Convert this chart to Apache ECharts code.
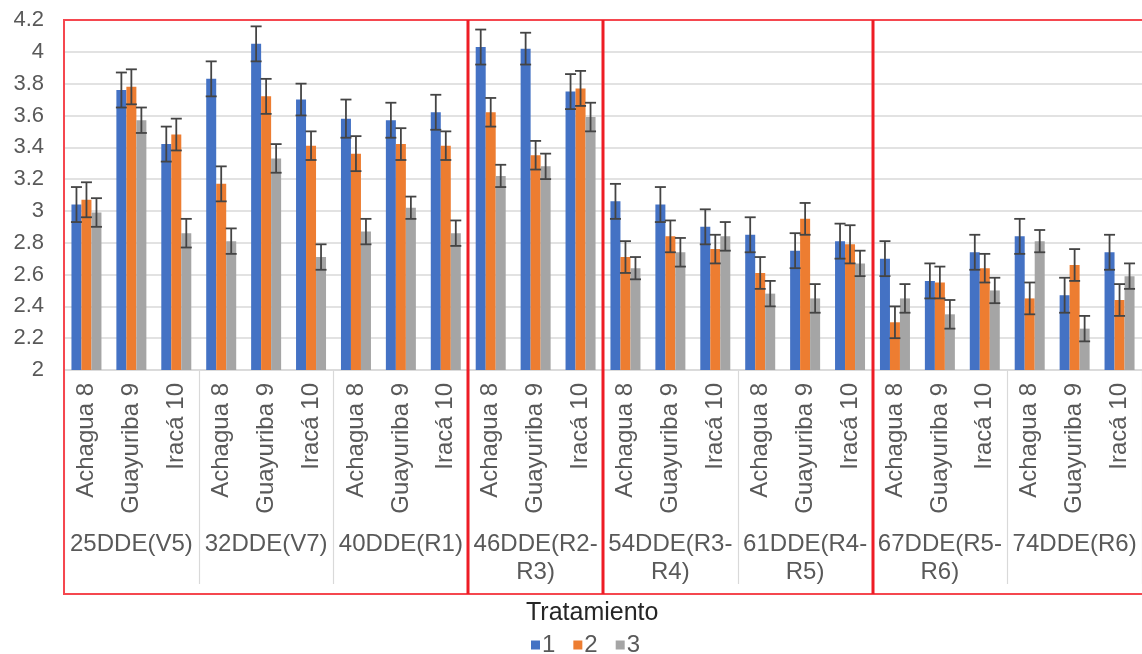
<!DOCTYPE html>
<html>
<head>
<meta charset="utf-8">
<script src="https://cdn.jsdelivr.net/npm/echarts@6/dist/echarts.min.js"></script>
<style>
html,body{margin:0;padding:0;background:#fff;}
#c{width:1142px;height:654px;}
</style>
</head>
<body>
<div id="c"></div>
<script>
// ---- data ----
const varieties = ['Achagua 8','Guayuriba 9','Iracá 10'];
const groups = ['25DDE(V5)','32DDE(V7)','40DDE(R1)','46DDE(R2-R3)','54DDE(R3-R4)','61DDE(R4-R5)','67DDE(R5-R6)','74DDE(R6)'];
const categories = [];
groups.forEach(function(g){ varieties.forEach(function(v){ categories.push(v); }); });
const seriesNames = ['1','2','3'];
const values1 = [3.04,3.76,3.42,3.83,4.05,3.70,3.58,3.57,3.62,4.03,4.02,3.75,3.06,3.04,2.90,2.85,2.75,2.81,2.70,2.56,2.74,2.84,2.47,2.74];
const values2 = [3.07,3.78,3.48,3.17,3.72,3.41,3.36,3.42,3.41,3.62,3.35,3.77,2.71,2.84,2.76,2.61,2.95,2.79,2.30,2.55,2.64,2.45,2.66,2.44];
const values3 = [2.99,3.57,2.86,2.81,3.33,2.71,2.87,3.02,2.86,3.22,3.28,3.59,2.64,2.74,2.84,2.48,2.45,2.67,2.45,2.35,2.50,2.81,2.26,2.59];
const errors1 = [0.11,0.11,0.11,0.11,0.11,0.10,0.12,0.11,0.11,0.11,0.10,0.11,0.11,0.11,0.11,0.11,0.11,0.11,0.11,0.11,0.11,0.11,0.11,0.11];
const errors2 = [0.11,0.11,0.10,0.11,0.11,0.09,0.11,0.10,0.09,0.09,0.09,0.11,0.10,0.10,0.09,0.10,0.10,0.12,0.10,0.10,0.09,0.10,0.10,0.10];
const errors3 = [0.09,0.08,0.09,0.08,0.09,0.08,0.08,0.07,0.08,0.07,0.08,0.09,0.07,0.09,0.09,0.08,0.09,0.08,0.09,0.09,0.08,0.07,0.08,0.08];
const yTicks = {min:2, max:4.2, interval:0.2};
const legendTitle = 'Tratamiento';
// category index boundaries of the red boxes
const boxBounds = [0, 9, 12, 18, 24];

const colors = ['#4472C4','#ED7D31','#A5A5A5'];
const FONT = '"Liberation Sans", Arial, sans-serif';
const allValues = [values1, values2, values3];
const allErrors = [errors1, errors2, errors3];
const BAR_W = 10;

const chart = echarts.init(document.getElementById('c'));

const series = [];
seriesNames.forEach(function(n, s){
  series.push({
    name: n, type: 'bar', xAxisIndex: 0, barWidth: BAR_W, barGap: '0%',
    itemStyle: {color: colors[s]}, data: allValues[s], z: 2
  });
});
seriesNames.forEach(function(n, s){
  series.push({
    name: 'err' + n, type: 'custom', xAxisIndex: 0, z: 5,
    encode: {x: 0, y: 1},
    data: allValues[s].map(function(v, i){ return [i, v, allErrors[s][i]]; }),
    renderItem: function(params, api){
      const i = api.value(0), v = api.value(1), e = api.value(2);
      const top = api.coord([i, v + e]);
      const bot = api.coord([i, v - e]);
      const x = top[0] + (s - 1) * BAR_W;
      const hw = 5.5;
      const st = {stroke: '#444444', lineWidth: 1.8};
      return {type: 'group', children: [
        {type: 'line', shape: {x1: x, y1: top[1], x2: x, y2: bot[1]}, style: st},
        {type: 'line', shape: {x1: x - hw, y1: top[1], x2: x + hw, y2: top[1]}, style: st},
        {type: 'line', shape: {x1: x - hw, y1: bot[1], x2: x + hw, y2: bot[1]}, style: st}
      ]};
    }
  });
});

chart.setOption({
  animation: false,
  textStyle: {fontFamily: FONT},
  grid: {left: 64, right: 0, top: 20, bottom: 284, containLabel: false},
  title: {
    text: legendTitle, left: 521, top: 596,
    textStyle: {fontFamily: FONT, fontSize: 25, fontWeight: 'normal', color: '#262626'}
  },
  legend: {
    data: seriesNames, left: 526, top: 628, icon: 'rect',
    itemWidth: 9, itemHeight: 9, itemGap: 18,
    textStyle: {fontFamily: FONT, fontSize: 24, color: '#595959', padding: [0,0,0,-3]}
  },
  xAxis: [{
    type: 'category', data: categories, position: 'bottom',
    axisLine: {show: true, lineStyle: {color: '#d9d9d9', width: 1.5}},
    axisTick: {show: false},
    axisLabel: {interval: 0, rotate: 90, margin: 13, fontFamily: FONT, fontSize: 24, color: '#595959'}
  }, {
    type: 'category', data: groups, position: 'bottom', gridIndex: 0,
    axisLine: {show: false},
    axisTick: {show: true, length: 214, lineStyle: {color: '#d9d9d9', width: 1.2}},
    axisLabel: {
      interval: 0, margin: 160, fontFamily: FONT, fontSize: 24, color: '#595959',
      lineHeight: 28, verticalAlign: 'top',
      formatter: function(t){ return t.replace(/-(?=R)/, '-\n'); }
    }
  }],
  yAxis: {
    type: 'value', min: yTicks.min, max: yTicks.max, interval: yTicks.interval,
    axisLine: {show: false}, axisTick: {show: false},
    axisLabel: {margin: 20, fontFamily: FONT, fontSize: 22, color: '#595959'},
    splitLine: {lineStyle: {color: '#d9d9d9', width: 1.5}}
  },
  series: series
});

// red annotation boxes
const band = chart.convertToPixel({xAxisIndex: 0}, categories.length > 1 ? 1 : 0) - chart.convertToPixel({xAxisIndex: 0}, 0);
function edgeX(idx){
  if (idx >= categories.length) return chart.convertToPixel({xAxisIndex: 0}, categories.length - 1) + band / 2;
  return chart.convertToPixel({xAxisIndex: 0}, idx) - band / 2;
}
const yTop = chart.convertToPixel({yAxisIndex: 0}, yTicks.max);
const yAxisPx = chart.convertToPixel({yAxisIndex: 0}, yTicks.min);
const yBot = yAxisPx + 224;
const gfx = [];
const xL = edgeX(boxBounds[0]), xR = edgeX(boxBounds[boxBounds.length - 1]);
gfx.push({type: 'rect', shape: {x: xL, y: yTop, width: xR - xL + 4, height: yBot - yTop},
  style: {fill: 'none', stroke: '#f5474f', lineWidth: 2}, z: 100});
for (let k = 1; k < boxBounds.length - 1; k++) {
  const x = Math.round(edgeX(boxBounds[k]));
  gfx.push({type: 'line', shape: {x1: x, y1: yTop, x2: x, y2: yBot},
    style: {stroke: '#ee1c25', lineWidth: 3}, z: 101});
}
chart.setOption({graphic: gfx});
</script>
</body>
</html>
